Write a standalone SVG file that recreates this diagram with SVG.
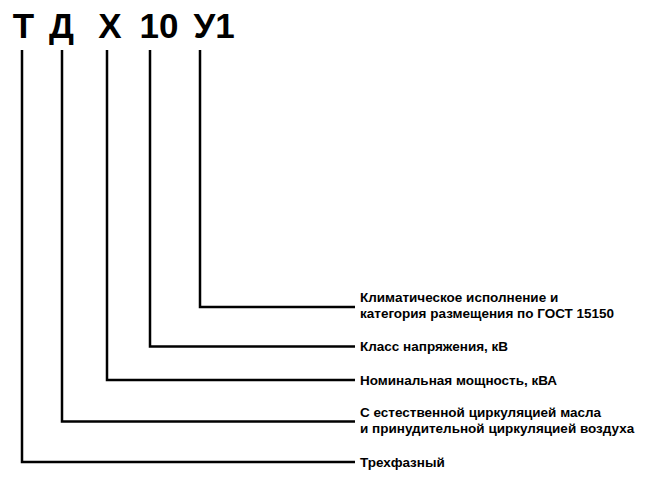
<svg xmlns="http://www.w3.org/2000/svg" width="645" height="477" viewBox="0 0 645 477">
<style>
.code{font-family:"Liberation Sans",Arial,sans-serif;font-weight:bold;font-size:35px;fill:#000;text-anchor:middle}
.lbl{font-family:"Liberation Sans",Arial,sans-serif;font-weight:bold;font-size:13.5px;fill:#000}
.ln{fill:none;stroke:#000;stroke-width:2.5;stroke-linejoin:miter;stroke-linecap:butt}
</style>
<rect width="645" height="477" fill="#fff"/>
<g id="code">
<text class="code" x="23.5" y="38">Т</text>
<text class="code" x="61.5" y="38">Д</text>
<text class="code" x="110" y="38">Х</text>
<text class="code" x="159" y="38">10</text>
<text class="code" x="214" y="38">У1</text>
</g>
<g id="connectors">
<polyline class="ln" points="200,50 200,307 355,307"/>
<polyline class="ln" points="150,50 150,346.5 355,346.5"/>
<polyline class="ln" points="107,50 107,380 355,380"/>
<polyline class="ln" points="62,50 62,421.5 355,421.5"/>
<polyline class="ln" points="22,50 22,462 355,462"/>
</g>
<g id="label-climate">
<text class="lbl" x="360" y="302">Климатическое исполнение и</text>
<text class="lbl" x="360" y="318">категория размещения по ГОСТ 15150</text>
</g>
<g id="label-voltage">
<text class="lbl" x="360" y="351">Класс напряжения, кВ</text>
</g>
<g id="label-power">
<text class="lbl" x="360" y="384.5">Номинальная мощность, кВА</text>
</g>
<g id="label-cooling">
<text class="lbl" x="360" y="416.5">С естественной циркуляцией масла</text>
<text class="lbl" x="360" y="432.5">и принудительной циркуляцией воздуха</text>
</g>
<g id="label-phase">
<text class="lbl" x="360" y="466.5">Трехфазный</text>
</g>
</svg>
